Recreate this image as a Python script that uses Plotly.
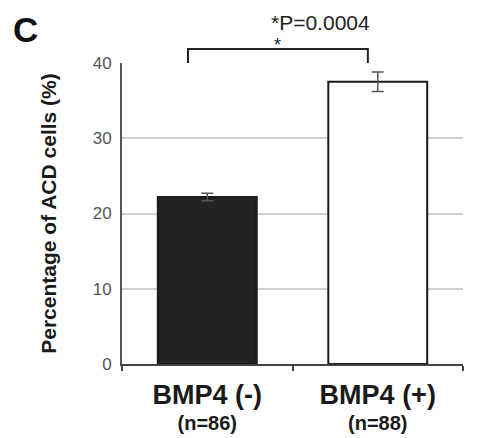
import plotly.graph_objects as go

categories = ["BMP4 (-)", "BMP4 (+)"]
n_values = [86, 88]
values = [22.2, 37.5]
errors = [0.5, 1.3]
y_ticks = [0, 10, 20, 30, 40]
p_text = "*P=0.0004"

ticktext = [f"<span style='font-size:27px'><b>{c}</b></span><br><span style='font-size:20px'><b>(n={n})</b></span>"
            for c, n in zip(categories, n_values)]

fig = go.Figure()
fig.add_trace(go.Bar(
    x=categories, y=values,
    width=0.58,
    marker=dict(color=["#232323", "#ffffff"], line=dict(color="#1a1a1a", width=2)),
    error_y=dict(type="data", array=errors, visible=True, color="#555555", thickness=1.5, width=6),
))

# page body has an 8px margin, so the figure is shifted by 8px
fig.update_layout(
    width=470, height=430,
    margin=dict(l=114, r=15, t=55, b=74),
    plot_bgcolor="white", paper_bgcolor="white",
    showlegend=False,
    font=dict(family="Liberation Sans, Arial, sans-serif", color="#222"),
    xaxis=dict(
        type="category", tickson="boundaries", ticks="outside", ticklen=5, tickwidth=2,
        tickcolor="#444", showline=True, linecolor="#444", linewidth=2,
        tickvals=categories, ticktext=ticktext, ticklabelstandoff=14,
        tickfont=dict(size=20, color="#1a1a1a"),
        range=[-0.5, 1.5], showgrid=False, automargin=False,
    ),
    yaxis=dict(
        range=[0, 40], tickvals=y_ticks, showline=True, linecolor="#555", linewidth=2,
        showgrid=True, gridcolor="#cfcfcf", gridwidth=1.5, ticks="", ticklabelstandoff=5,
        tickfont=dict(size=17, color="#555"),
        title=dict(text="<b>Percentage of ACD cells (%)</b>", font=dict(size=21, color="#1a1a1a"), standoff=30),
        zeroline=False, automargin=False,
    ),
    bargap=0.42,
)

# significance bracket
fig.add_shape(type="path", xref="paper", yref="paper",
              path="M 0.1935 1.0 L 0.1935 1.0465 L 0.721 1.0465 L 0.721 1.0",
              line=dict(color="#222", width=2))
fig.add_annotation(x=0.455, y=1.06, xref="paper", yref="paper", text="*", showarrow=False,
                   font=dict(size=18, color="#222"), xanchor="center", yanchor="middle")
fig.add_annotation(x=0.581, y=1.133, xref="paper", yref="paper", text=p_text, showarrow=False,
                   font=dict(size=21, color="#222"), xanchor="center", yanchor="middle")
fig.add_annotation(x=-0.283, y=1.182, xref="paper", yref="paper", text="<b>C</b>", showarrow=False,
                   font=dict(size=35, color="#111"), xanchor="center", yanchor="top")

fig.write_html("out.html")
